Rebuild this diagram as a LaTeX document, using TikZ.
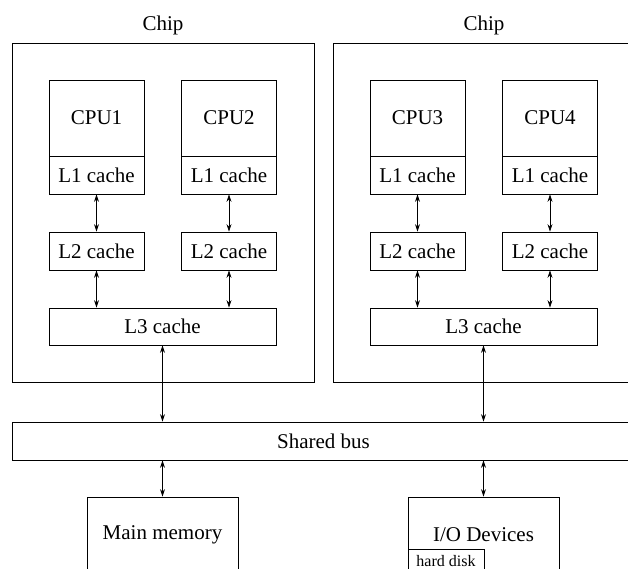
\documentclass[tikz,border=0pt]{standalone}
\usepackage{fontspec}
\setmainfont{Liberation Serif}
\usetikzlibrary{arrows.meta}
\begin{document}
\begin{tikzpicture}[x=1pt,y=-1pt,
  bx/.style={draw, line width=0.8pt, inner sep=0pt, font=\fontsize{21}{25}\selectfont},
  lbl/.style={inner sep=0pt, font=\fontsize{21}{25}\selectfont},
  cpubox/.style={bx, minimum width=95pt, minimum height=76pt},
  cachebox/.style={bx, minimum width=95pt, minimum height=38pt},
  lthree/.style={bx, minimum width=227pt, minimum height=37pt},
  chipbox/.style={bx, minimum width=302pt, minimum height=339pt},
  devbox/.style={bx, minimum width=151pt, minimum height=76pt},
  arr/.style={{Stealth[length=7.5pt,width=5pt]}-{Stealth[length=7.5pt,width=5pt]}, line width=0.8pt}
]
\useasboundingbox (0,0) rectangle (628,569);
\clip (0,0) rectangle (628,569);

% chips
\node[chipbox] (chipA) at (163,212.5) {};
\node[lbl] (chipAl) at (163,25) {Chip};
\node[chipbox] (chipB) at (484,212.5) {};
\node[lbl] (chipBl) at (484,25) {Chip};

% chip A
\node[cpubox] (cpu1) at (96.5,118) {CPU1};
\node[cachebox] (l1a) at (96.5,175) {L1 cache};
\node[cachebox] (l2a) at (96.5,251) {L2 cache};
\node[cpubox] (cpu2) at (229,118) {CPU2};
\node[cachebox] (l1b) at (229,175) {L1 cache};
\node[cachebox] (l2b) at (229,251) {L2 cache};
\node[lthree] (l3a) at (162.5,326.5) {L3 cache};

% chip B
\node[cpubox] (cpu3) at (417.5,118) {CPU3};
\node[cachebox] (l1c) at (417.5,175) {L1 cache};
\node[cachebox] (l2c) at (417.5,251) {L2 cache};
\node[cpubox] (cpu4) at (550,118) {CPU4};
\node[cachebox] (l1d) at (550,175) {L1 cache};
\node[cachebox] (l2d) at (550,251) {L2 cache};
\node[lthree] (l3b) at (483.5,326.5) {L3 cache};

% bus and devices
\node[bx, minimum width=623pt, minimum height=38pt] (bus) at (323.5,441) {Shared bus};
\node[devbox] (mem) at (162.5,535) {Main memory};
\node[devbox] (io) at (483.5,535) {I/O Devices};
\node[bx, minimum width=76pt, minimum height=24pt, font=\fontsize{16}{19}\selectfont] (hd) at (446,561) {hard disk};

% arrows
\foreach \a/\b in {l1a/l2a, l1b/l2b, l1c/l2c, l1d/l2d}
  \draw[arr] (\a.south) -- (\b.north);
\draw[arr] (l2a.south) -- (l2a.south |- l3a.north);
\draw[arr] (l2b.south) -- (l2b.south |- l3a.north);
\draw[arr] (l2c.south) -- (l2c.south |- l3b.north);
\draw[arr] (l2d.south) -- (l2d.south |- l3b.north);
\draw[arr] (l3a.south) -- (l3a.south |- bus.north);
\draw[arr] (l3b.south) -- (l3b.south |- bus.north);
\draw[arr] (mem.north |- bus.south) -- (mem.north);
\draw[arr] (io.north |- bus.south) -- (io.north);
\end{tikzpicture}
\end{document}
